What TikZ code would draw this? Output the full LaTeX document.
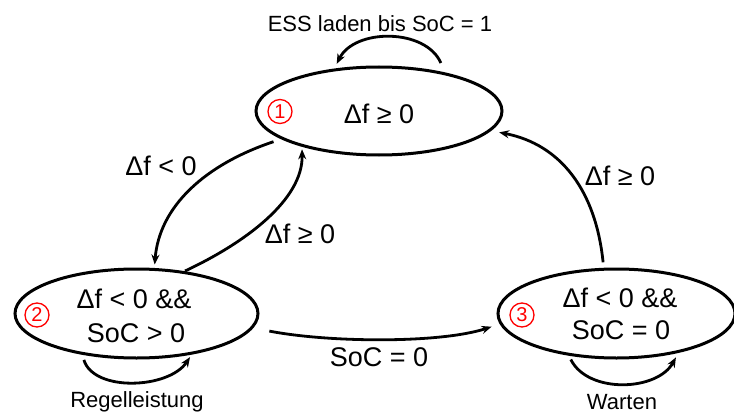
\documentclass[tikz,border=0pt]{standalone}
\usepackage{fontspec}
\setmainfont{Liberation Sans}
\usetikzlibrary{shapes.geometric,arrows.meta}
\begin{document}
\begin{tikzpicture}[x=1pt,y=-1pt,
  state/.style={draw, ellipse, line width=3pt, inner sep=0pt, outer sep=0pt},
  arr/.style={-{Stealth[length=10pt,width=8pt]}, line width=2.8pt},
  big/.style={font=\fontsize{27}{32}\selectfont, inner sep=0pt, anchor=base},
  small/.style={font=\fontsize{22}{26}\selectfont, inner sep=0pt, anchor=base},
  num/.style={circle, draw=red, line width=1.3pt, minimum size=24pt, inner sep=0pt,
    text=red, font=\fontsize{20}{20}\selectfont}]
\useasboundingbox (0,0) rectangle (734,412);
\node[state, minimum width=246pt, minimum height=88pt] (s1) at (379,111) {};
\node[state, minimum width=243pt, minimum height=89pt] (s2) at (136.5,313.5) {};
\node[state, minimum width=237pt, minimum height=89pt] (s3) at (616.5,313.5) {};
% texts inside states
\node[big] (t1) at (379,123) {Δf ≥ 0};
\node[num] (n1) at (280,111.5) {1};
\node[big] (t2a) at (134,308) {Δf < 0 \&\&};
\node[big] (t2b) at (136,342) {SoC > 0};
\node[num] (n2) at (37,315) {2};
\node[big] (t3a) at (620,307) {Δf < 0 \&\&};
\node[big] (t3b) at (621,339) {SoC = 0};
\node[num] (n3) at (522,315) {3};
% connectors
\draw[arr, shorten <=12pt, shorten >=7pt] (s1.29) .. controls +(-20,-46) and +(21,-42) .. (s1.138);
\draw[arr, shorten <=10pt, shorten >=5pt] (s1.196) .. controls +(-78,26) and +(5,-63) .. (s2.68);
\draw[arr, shorten <=3pt, shorten >=4pt] (s2.42) .. controls +(62,-29) and +(1,55) .. (s1.204);
\draw[arr, shorten <=18pt, shorten >=10pt] (s2.-7) .. controls +(77,15) and +(-61,20) .. (s3.185);
\draw[arr, shorten <=7pt, shorten >=10pt] (s3.106) .. controls +(-8,-78) and +(72,14) .. (s1.-10);
\draw[arr, shorten <=7pt, shorten >=5pt] (s2.216) .. controls +(12,39) and +(-24,36) .. (s2.-35);
\draw[arr, shorten <=6pt, shorten >=7pt] (s3.220) .. controls +(20,40) and +(-22,40) .. (s3.-31);
% labels
\node[small] (l1) at (380,32) {ESS laden bis SoC = 1};
\node[big] (l2) at (161,175) {Δf < 0};
\node[big] (l3) at (300,243) {Δf ≥ 0};
\node[big] (l4) at (620,185) {Δf ≥ 0};
\node[big] (l5) at (379,366) {SoC = 0};
\node[small] (l6) at (137,407) {Regelleistung};
\node[small] (l7) at (622,409.5) {Warten};
\end{tikzpicture}
\end{document}
